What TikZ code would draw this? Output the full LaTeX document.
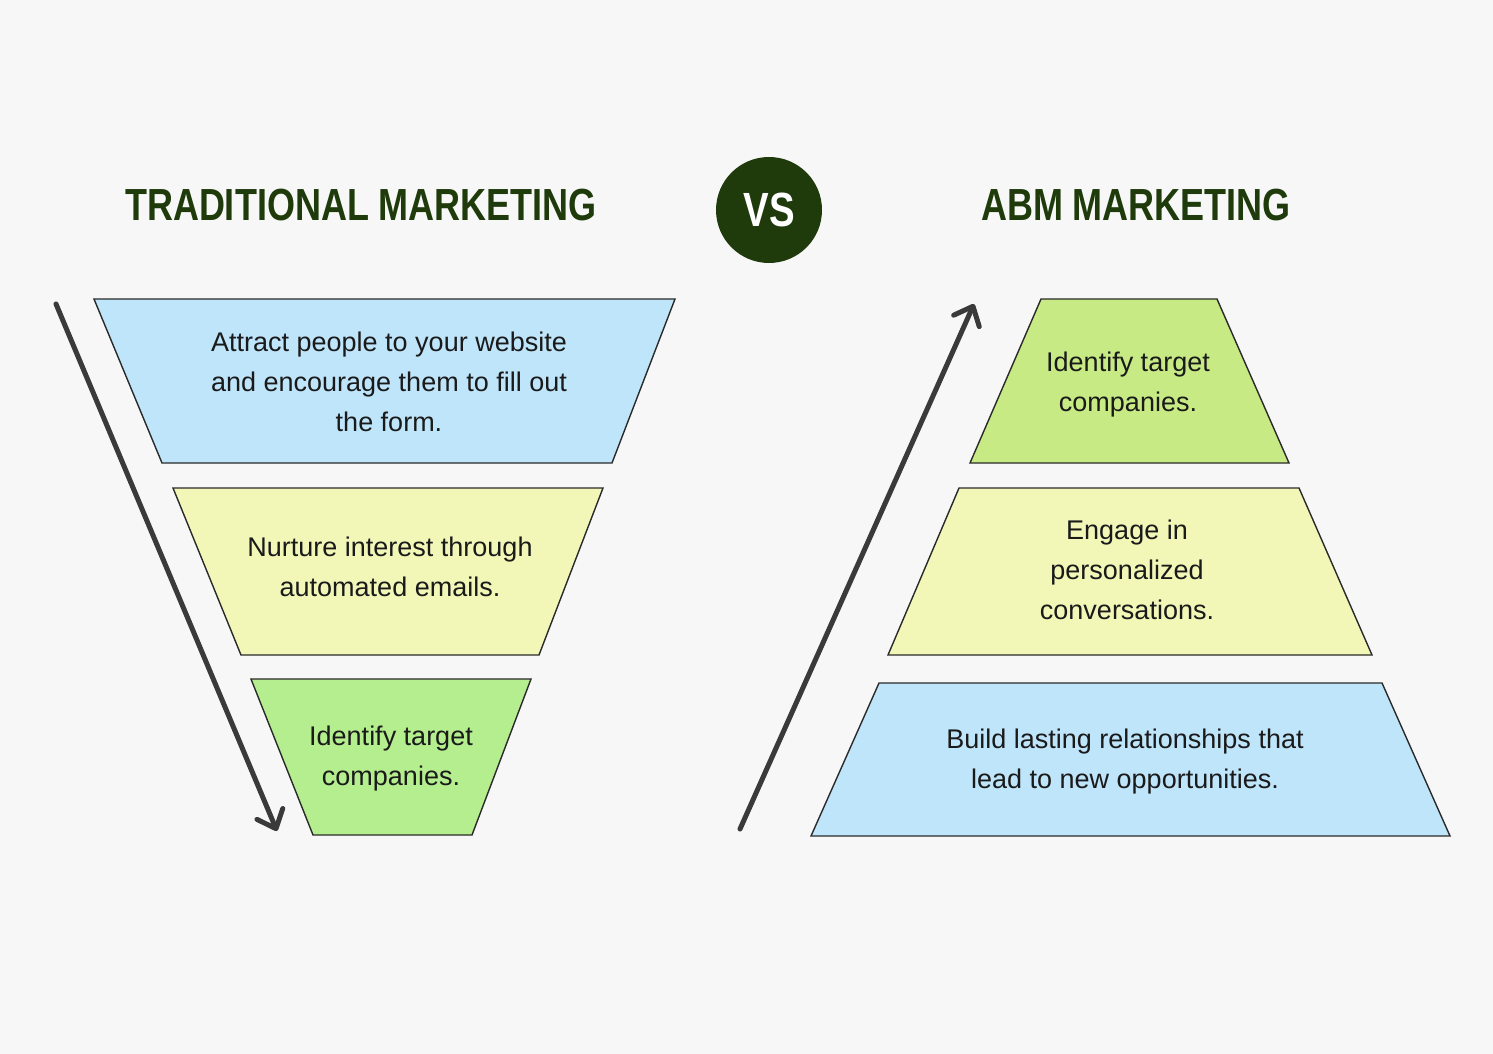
\documentclass[tikz,border=0pt]{standalone}
\usepackage{fontspec}
\setmainfont{Liberation Sans}
\newfontfamily\titlefont[FakeStretch=0.8]{Liberation Sans}
\usetikzlibrary{arrows.meta}
\definecolor{bg}{HTML}{F7F7F7}
\definecolor{tblue}{HTML}{BFE5FB}
\definecolor{tyellow}{HTML}{F2F7B8}
\definecolor{tgreen}{HTML}{B5EE8E}
\definecolor{tlime}{HTML}{C7EA85}
\definecolor{dgreen}{HTML}{1F3B0C}
\definecolor{arrowgray}{HTML}{3A3A3A}
\definecolor{edge}{HTML}{2A2A2A}
\definecolor{txt}{HTML}{1A1A1A}
\begin{document}
\begin{tikzpicture}[x=1pt,y=-1pt,
  trap/.style={draw=edge,line width=1.4pt,line join=miter},
  body/.style={text=txt,align=center,font=\fontsize{27}{40}\selectfont},
  title/.style={text=dgreen,font=\titlefont\bfseries\fontsize{45}{50}\selectfont},
  flow/.style={draw=arrowgray,line width=5pt,line cap=round,
    -{Straight Barb[length=16pt,width=28pt,line cap=round,line join=round]}}]
\fill[bg] (0,0) rectangle (1493,1054);
\useasboundingbox (0,0) rectangle (1493,1054);
% titles
\node[title] (tradtitle) at (361,205) {TRADITIONAL MARKETING};
\node[title] (abmtitle) at (1136,205) {ABM MARKETING};
\node[circle,fill=dgreen,minimum size=106pt,inner sep=0pt,text=white,
  font=\titlefont\bfseries\fontsize{48}{50}\selectfont] (vs) at (769,210) {VS};
% left funnel
\filldraw[trap,fill=tblue] (94,299) -- (675,299) -- (612,463) -- (162,463) -- cycle;
\filldraw[trap,fill=tyellow] (173,488) -- (603,488) -- (539,655) -- (241,655) -- cycle;
\filldraw[trap,fill=tgreen] (251,679) -- (531,679) -- (472,835) -- (313,835) -- cycle;
\node[body] (l1) at (389,382) {Attract people to your website\\and encourage them to fill out\\the form.};
\node[body] (l2) at (390,567) {Nurture interest through\\automated emails.};
\node[body] (l3) at (391,759) {Identify target\\companies.};
% right pyramid
\filldraw[trap,fill=tlime] (1041,299) -- (1217,299) -- (1289,463) -- (970,463) -- cycle;
\filldraw[trap,fill=tyellow] (959,488) -- (1299,488) -- (1372,655) -- (888,655) -- cycle;
\filldraw[trap,fill=tblue] (879,683) -- (1382,683) -- (1450,836) -- (811,836) -- cycle;
\node[body] (r1) at (1128,385) {Identify target\\companies.};
\node[body] (r2) at (1127,570) {Engage in\\personalized\\conversations.};
\node[body] (r3) at (1125,762) {Build lasting relationships that\\lead to new opportunities.};
% arrows
\coordinate (ldown0) at (56,304);
\coordinate (ldown1) at (277,831);
\coordinate (rup0) at (740,829);
\coordinate (rup1) at (974,304);
\draw[flow] (ldown0) -- (ldown1);
\draw[flow] (rup0) -- (rup1);
\end{tikzpicture}
\end{document}
